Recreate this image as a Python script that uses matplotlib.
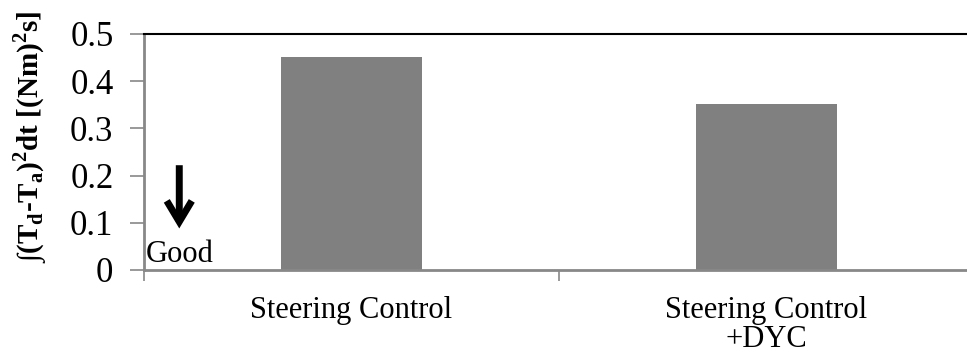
import matplotlib
matplotlib.use("Agg")
import matplotlib.pyplot as plt

categories = ["Steering Control", "Steering Control\n+DYC"]
values = [0.452, 0.352]
yticks = [0, 0.1, 0.2, 0.3, 0.4, 0.5]

plt.rcParams["font.family"] = ["Liberation Serif", "DejaVu Serif"]
plt.rcParams["mathtext.fontset"] = "custom"
plt.rcParams["mathtext.rm"] = "Liberation Serif"
plt.rcParams["mathtext.bf"] = "Liberation Serif:bold"

W, H = 967, 356
fig = plt.figure(figsize=(W / 100, H / 100), dpi=100)
left, right, top, bottom = 144, 974, 34, 270
ax = fig.add_axes([left / W, 1 - bottom / H, (right - left) / W, (bottom - top) / H])

x = range(len(categories))
ax.bar(x, values, width=0.34, color="#808080", zorder=2)

ax.set_xlim(-0.5, 1.5)
ax.set_ylim(0, 0.5)
ax.set_yticks(yticks)
ax.set_yticklabels([f"{v:g}" for v in yticks], fontsize=25)
ax.set_xticks([-0.5, 0.5, 1.5])
ax.set_xticklabels([])
ax.set_xticks(list(x), minor=True)
ax.set_xticklabels(categories, minor=True, fontsize=22, linespacing=1.0)
ax.tick_params(axis="x", which="minor", length=0, pad=19)
ax.tick_params(axis="x", which="major", length=8, color="#888888", width=1.2)
ax.tick_params(axis="y", length=10, color="#888888", width=1.2, pad=12)

for s in ("left", "bottom"):
    ax.spines[s].set_color("#888888")
    ax.spines[s].set_linewidth(2)
ax.spines["top"].set_color("black")
ax.spines["top"].set_linewidth(1.5)
ax.spines["right"].set_visible(False)

ax.set_ylabel(r"∫(T$_\mathbf{d}$-T$_\mathbf{a}$)$^\mathbf{2}$dt [(Nm)$^\mathbf{2}$s]",
              fontsize=21, fontweight="bold")
ax.yaxis.set_label_coords(-0.114, 0.565)

# "Good" indicator in the lower-left corner
ax.annotate("", xy=(-0.415, 0.088), xytext=(-0.415, 0.222),
            arrowprops=dict(arrowstyle="->,head_width=0.45,head_length=0.75",
                            mutation_scale=20, color="black", lw=5,
                            shrinkA=0, shrinkB=0, joinstyle="miter",
                            capstyle="butt"))
ax.text(-0.495, 0.017, "Good", fontsize=22, ha="left", va="baseline")

fig.savefig("out.png", dpi=100)
